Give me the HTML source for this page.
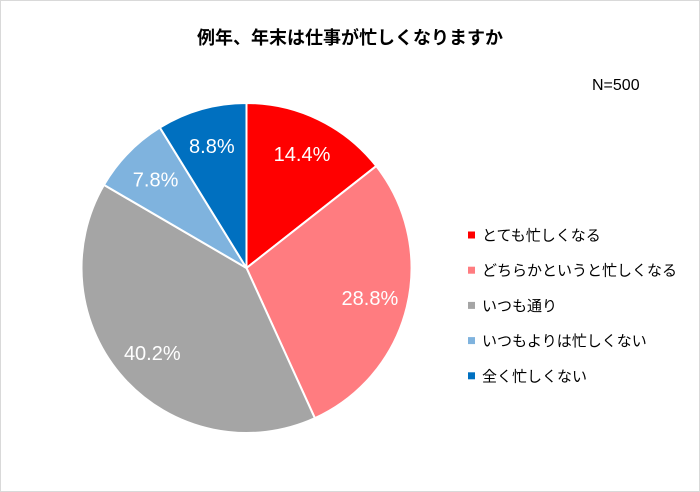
<!DOCTYPE html>
<html><head><meta charset="utf-8">
<style>
html,body{margin:0;padding:0;background:#fff;}
#chart{position:relative;width:700px;height:492px;overflow:hidden;}
svg text{font-family:"Liberation Sans","Noto Sans CJK JP",sans-serif;}
</style></head>
<body>
<div id="chart">
<svg id="svg" width="700" height="492" xmlns="http://www.w3.org/2000/svg">
  <rect x="0.5" y="0.5" width="699" height="491" fill="#fff" stroke="#d9d9d9"/>
  <text x="350" y="44" text-anchor="middle" font-size="18" font-weight="bold" fill="#000">例年、年末は仕事が忙しくなりますか</text>
  <text x="592" y="90" font-size="16" fill="#000">N=500</text>
  <g id="slices"></g>
  <g id="labels"></g>
  <g id="legend"></g>
</svg>
</div>
<script>
const categories = ["とても忙しくなる","どちらかというと忙しくなる","いつも通り","いつもよりは忙しくない","全く忙しくない"];
const values = [14.4, 28.8, 40.2, 7.8, 8.8];
const valueLabels = ["14.4%","28.8%","40.2%","7.8%","8.8%"];
const colors = ["#FF0000","#FF7C80","#A5A5A5","#7FB3DE","#0070C0"];

const NS="http://www.w3.org/2000/svg";
const cx=246.5, cy=268, r=165, labelR=127;
const total=values.reduce((a,b)=>a+b,0);
const gS=document.getElementById('slices'), gL=document.getElementById('labels'), gLeg=document.getElementById('legend');
function pt(a,rad){return [cx+rad*Math.sin(a), cy-rad*Math.cos(a)];}
let acc=0;
values.forEach((v,i)=>{
  const a0=acc/total*2*Math.PI; acc+=v; const a1=acc/total*2*Math.PI;
  const [x0,y0]=pt(a0,r), [x1,y1]=pt(a1,r);
  const large=(a1-a0)>Math.PI?1:0;
  const p=document.createElementNS(NS,'path');
  p.setAttribute('d',`M${cx},${cy} L${x0},${y0} A${r},${r} 0 ${large} 1 ${x1},${y1} Z`);
  p.setAttribute('fill',colors[i]); p.setAttribute('stroke','#fff'); p.setAttribute('stroke-width','2');
  
  
  gS.appendChild(p);
  const [lx,ly]=pt((a0+a1)/2,labelR);
  const t=document.createElementNS(NS,'text');
  t.setAttribute('x',lx); t.setAttribute('y',ly+7); t.setAttribute('text-anchor','middle');
  t.setAttribute('font-size','20'); t.setAttribute('fill','#fff');
  t.textContent=valueLabels[i];
  
  
  gL.appendChild(t);
  const yy=235+i*35.2;
  const g=document.createElementNS(NS,'g');
  
  
  const s=document.createElementNS(NS,'rect');
  s.setAttribute('x',468); s.setAttribute('y',yy-3.5); s.setAttribute('width',7); s.setAttribute('height',7); s.setAttribute('fill',colors[i]);
  g.appendChild(s);
  const lt=document.createElementNS(NS,'text');
  lt.setAttribute('x',482); lt.setAttribute('y',yy+5.5); lt.setAttribute('font-size','15'); lt.setAttribute('fill','#000');
  lt.textContent=categories[i];
  g.appendChild(lt);
  gLeg.appendChild(g);
});
</script>
</body></html>
